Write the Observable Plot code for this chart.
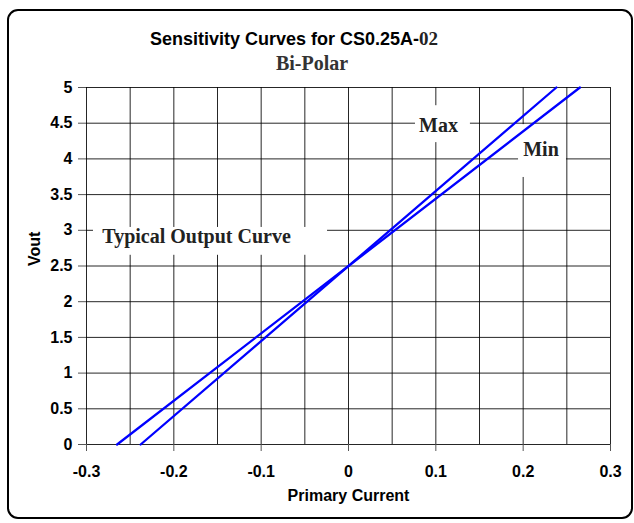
<!DOCTYPE html>
<html>
<head>
<meta charset="utf-8">
<script src="https://cdn.jsdelivr.net/npm/d3@7"></script>
<script src="https://cdn.jsdelivr.net/npm/@observablehq/plot@0.6"></script>
<style>
  body { margin: 0; background: #fff; }
  #wrap { position: relative; width: 634px; height: 523px; overflow: hidden; }
  #chart { position: absolute; left: 0; top: 0; }
  #frame { position: absolute; left: 7px; top: 9px; width: 626px; height: 510px; box-sizing: border-box;
           border: 2.5px solid #000; border-radius: 11px; pointer-events: none; }
  #title { position: absolute; left: 0; width: 588px; top: 29px; text-align: center;
           font: bold 18px "Liberation Sans", Arial, sans-serif; line-height: 20px; color: #000; }
  #title span { font-family: "Liberation Serif", "Times New Roman", serif; font-size: 19px; color: #222; }
  #subtitle { position: absolute; left: 0; width: 624px; top: 53px; text-align: center;
              font: bold 20px "Liberation Serif", "Times New Roman", serif; line-height: 20px; color: #333; }
</style>
</head>
<body>
<div id="wrap">
  <div id="chart"></div>
  <div id="title">Sensitivity Curves for CS0.25A-<span>02</span></div>
  <div id="subtitle">Bi-Polar</div>
  <div id="frame"></div>
</div>
<script>
// ---- data ----
const xTicks = [-0.3, -0.2, -0.1, 0, 0.1, 0.2, 0.3];
const xTickLabels = ["-0.3", "-0.2", "-0.1", "0", "0.1", "0.2", "0.3"];
const xGrid = [-0.3, -0.25, -0.2, -0.15, -0.1, -0.05, 0, 0.05, 0.1, 0.15, 0.2, 0.25, 0.3];
const yTicks = [0, 0.5, 1, 1.5, 2, 2.5, 3, 3.5, 4, 4.5, 5];
const yTickLabels = ["0", "0.5", "1", "1.5", "2", "2.5", "3", "3.5", "4", "4.5", "5"];

const maxCurrent = [-0.238, 0.238];
const maxVout = [0, 5];
const minCurrent = [-0.265, 0.265];
const minVout = [0, 5];

const labelText = ["Max", "Min", "Typical Output Curve"];
const labelCurrent = [0.103, 0.2204, -0.174];
const labelVout = [4.47, 4.13, 2.91];
// white boxes behind the annotation labels (data units)
const boxCurrent1 = [0.0767, 0.1947, -0.292];
const boxCurrent2 = [0.1396, 0.2496, -0.024];
const boxVout1 = [4.228, 3.74, 2.65];
const boxVout2 = [4.745, 4.48, 3.04];

// ---- tables ----
const lineData = [
  ...maxCurrent.map((c, i) => ({series: "Max", current: c, vout: maxVout[i]})),
  ...minCurrent.map((c, i) => ({series: "Min", current: c, vout: minVout[i]}))
];
const labels = labelText.map((t, i) => ({text: t, current: labelCurrent[i], vout: labelVout[i]}));
const boxes = labelText.map((t, i) => ({x1: boxCurrent1[i], x2: boxCurrent2[i], y1: boxVout1[i], y2: boxVout2[i]}));

const chart = Plot.plot({
  width: 634,
  height: 523,
  marginLeft: 86,
  marginRight: 24,
  marginTop: 87,
  marginBottom: 79,
  x: {domain: [-0.3, 0.3]},
  y: {domain: [0, 5]},
  style: {
    fontFamily: "'Liberation Sans', Arial, sans-serif",
    fontWeight: "bold",
    fontSize: "16px",
    color: "#000",
    background: "transparent",
    overflow: "visible"
  },
  marks: [
    Plot.ruleX(xGrid, {stroke: "#000", strokeWidth: 1, strokeOpacity: 0.85}),
    Plot.ruleY(yTicks, {stroke: "#000", strokeWidth: 1, strokeOpacity: 0.85}),
    Plot.rect(boxes, {x1: "x1", x2: "x2", y1: "y1", y2: "y2", fill: "#fff"}),
    Plot.line(lineData, {x: "current", y: "vout", z: "series", stroke: "#0000ff", strokeWidth: 2.3}),
    Plot.text(labels, {
      x: "current", y: "vout", text: "text",
      fontFamily: "'Liberation Serif', 'Times New Roman', serif",
      fontSize: 20, fontWeight: "bold", fill: "#222"
    }),
    Plot.axisX({
      ticks: xTicks,
      tickFormat: d => xTickLabels[xTicks.indexOf(d)],
      tickSize: 7, tickPadding: 14, label: null, fontSize: 16, stroke: "#555"
    }),
    Plot.axisY({
      ticks: yTicks,
      tickFormat: d => yTickLabels[yTicks.indexOf(d)],
      tickSize: 8, tickPadding: 6, label: null, fontSize: 16, stroke: "#555"
    }),
    Plot.text(["Vout"], {frameAnchor: "left", dx: -52, rotate: -90, text: d => d, fontSize: 16, fontWeight: "bold"}),
    Plot.text(["Primary Current"], {frameAnchor: "bottom", dy: 56, text: d => d, fontSize: 16, fontWeight: "bold"})
  ]
});
document.getElementById("chart").appendChild(chart);
</script>
</body>
</html>
